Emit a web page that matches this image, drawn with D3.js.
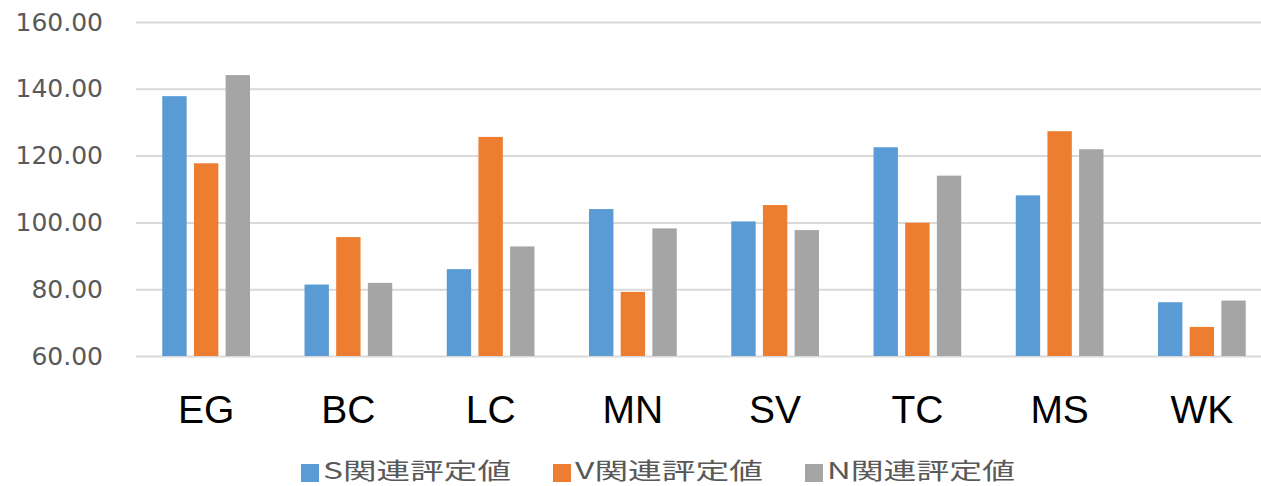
<!DOCTYPE html>
<html>
<head>
<meta charset="utf-8">
<script src="https://cdn.jsdelivr.net/npm/d3@7"></script>
<style>
  html, body { margin: 0; padding: 0; background: #fff; }
  svg { display: block; }
</style>
</head>
<body>
<svg id="chart" width="1261" height="486"></svg>
<script>
// Categories and the three rating series
const categories = ["EG", "BC", "LC", "MN", "SV", "TC", "MS", "WK"];
const seriesNames = ["S関連評定値", "V関連評定値", "N関連評定値"];
const sValues = [137.8, 81.4, 86.0, 104.0, 100.3, 122.5, 108.1, 76.1];
const vValues = [117.7, 95.6, 125.6, 79.2, 105.2, 99.9, 127.3, 68.7];
const nValues = [144.1, 81.9, 92.8, 98.2, 97.7, 114.0, 121.9, 76.6];
const yTicks = [60, 80, 100, 120, 140, 160];
const colors = ["#5B9BD5", "#ED7D31", "#A5A5A5"];

const series = [sValues, vValues, nValues];
const width = 1261, height = 486;
const svg = d3.select("#chart");

const plot = { left: 135, right: 1273, top: 22, bottom: 356 };

const y = d3.scaleLinear().domain([60, 160]).range([plot.bottom, plot.top]);
const x0 = d3.scaleBand().domain(categories).range([plot.left, plot.right]).padding(0);
const groupHalf = 47.5;
const x1 = d3.scaleBand().domain(d3.range(series.length))
  .range([-groupHalf, groupHalf]).paddingInner(0.23).paddingOuter(0.115);

// Gridlines and y tick labels
const yAxis = d3.axisLeft(y).tickValues(yTicks)
  .tickSize(-(width - 136)).tickPadding(33)
  .tickFormat(d3.format(".2f"));
const gy = svg.append("g").attr("transform", "translate(136,0)").call(yAxis);
gy.select(".domain").remove();
gy.selectAll(".tick line").attr("stroke", "#d9d9d9").attr("stroke-width", 2);
gy.selectAll(".tick text")
  .attr("fill", "#595959")
  .style("font-family", "'DejaVu Sans', sans-serif")
  .style("font-size", "25px");

// Bars
const groups = svg.append("g").selectAll("g")
  .data(categories)
  .join("g")
  .attr("transform", d => `translate(${x0(d) + x0.bandwidth() / 2},0)`);

groups.selectAll("rect")
  .data((c, ci) => series.map((s, si) => ({ si, v: s[ci] })))
  .join("rect")
  .attr("x", d => x1(d.si))
  .attr("width", x1.bandwidth())
  .attr("y", d => y(d.v))
  .attr("height", d => y(60) - y(d.v))
  .attr("fill", d => colors[d.si]);

// Category labels
const xAxis = d3.axisBottom(x0).tickSize(0).tickPadding(0);
const gx = svg.append("g").attr("transform", "translate(0,423)").call(xAxis);
gx.select(".domain").remove();
gx.selectAll(".tick text")
  .attr("y", 0).attr("dy", 0)
  .attr("fill", "#000")
  .style("font-family", "'Liberation Sans', Arial, sans-serif")
  .style("font-size", "39px");

// Legend
const legend = svg.append("g").attr("transform", "translate(301,0)");
const item = legend.selectAll("g")
  .data(seriesNames)
  .join("g")
  .attr("transform", (d, i) => `translate(${i * 252},0)`);
item.append("rect")
  .attr("x", 0).attr("y", 464)
  .attr("width", 18).attr("height", 18)
  .attr("fill", (d, i) => colors[i]);
item.append("text")
  .attr("x", 22).attr("y", 479)
  .attr("textLength", 188)
  .attr("lengthAdjust", "spacingAndGlyphs")
  .attr("fill", "#595959")
  .style("font-family", "'Noto Sans CJK JP', sans-serif")
  .style("font-size", "23px")
  .text(d => d);
</script>
</body>
</html>
